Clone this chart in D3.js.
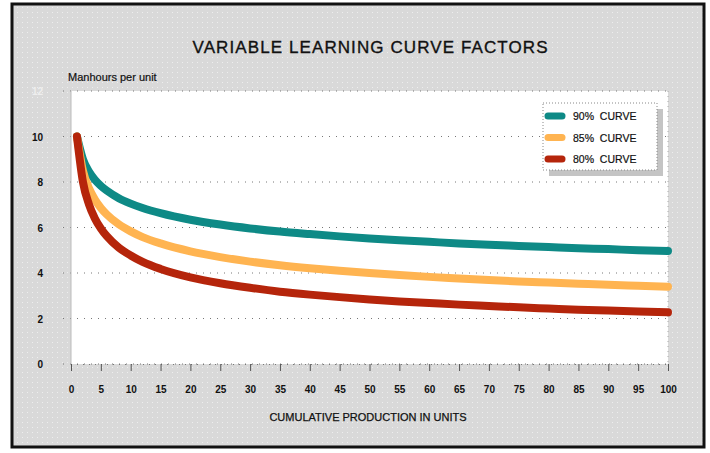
<!DOCTYPE html>
<html>
<head>
	<title>Learning curves</title>
	<script src="https://cdnjs.cloudflare.com/ajax/libs/d3/7.8.5/d3.min.js"></script>
	<style>
		body { margin: 0; background: #fff; }
		text { font-family: "Liberation Sans", Arial, sans-serif; }
	</style>
</head>
<body>
<script>

	// units produced (x) and manhours per unit
	var units = [1, 2, 3, 4, 5, 6, 8, 10, 12, 15, 20, 25, 30, 35, 40, 45, 50,
	             55, 60, 65, 70, 75, 80, 85, 90, 95, 100];
	var curve90 = [10, 9.0, 8.46, 8.1, 7.83, 7.62, 7.29, 7.05, 6.86, 6.63, 6.34, 6.13, 5.96,
	               5.82, 5.71, 5.61, 5.52, 5.44, 5.37, 5.3, 5.24, 5.19, 5.14, 5.09, 5.05, 5.0, 4.97];
	var curve85 = [10, 8.5, 7.73, 7.23, 6.86, 6.57, 6.14, 5.83, 5.58, 5.3, 4.95, 4.7, 4.5,
	               4.34, 4.21, 4.1, 4.0, 3.91, 3.83, 3.76, 3.69, 3.63, 3.58, 3.53, 3.48, 3.44, 3.4];
	var curve80 = [10, 8.0, 7.02, 6.4, 5.96, 5.62, 5.12, 4.77, 4.49, 4.18, 3.81, 3.55, 3.35,
	               3.18, 3.05, 2.94, 2.84, 2.75, 2.68, 2.61, 2.55, 2.49, 2.44, 2.39, 2.35, 2.31, 2.27];
	var seriesNames = ["90% CURVE", "85% CURVE", "80% CURVE"];
	var seriesColors = ["#0e8a86", "#ffb451", "#b5250b"];
	var xTicks = d3.range(0, 101, 5);
	var yTicks = [0, 2, 4, 6, 8, 10, 12];

	var width = 710, height = 453;
	var plot = {left: 71, right: 668, top: 91, bottom: 364};

	var svg = d3.select("body").append("svg")
		.attr("width", width)
		.attr("height", height);

	// dotted grey backdrop
	var pat = svg.append("defs").append("pattern")
		.attr("id", "dots")
		.attr("width", 5).attr("height", 5)
		.attr("patternUnits", "userSpaceOnUse");
	pat.append("rect").attr("width", 5).attr("height", 5).attr("fill", "#d9d9d9");
	pat.append("rect").attr("x", 2).attr("y", 2).attr("width", 1).attr("height", 1).attr("fill", "#eeeeee");

	svg.append("rect")
		.attr("x", 12).attr("y", 4)
		.attr("width", 692).attr("height", 443)
		.attr("fill", "url(#dots)")
		.attr("stroke", "#111")
		.attr("stroke-width", 3);

	var x = d3.scaleLinear().domain([0, 100]).range([plot.left, plot.right]);
	var y = d3.scaleLinear().domain([0, 12]).range([plot.bottom, plot.top]);

	svg.append("rect")
		.attr("x", plot.left).attr("y", plot.top)
		.attr("width", plot.right - plot.left)
		.attr("height", plot.bottom - plot.top)
		.attr("fill", "#fff");

	svg.append("text")
		.attr("x", 370).attr("y", 53)
		.attr("text-anchor", "middle")
		.attr("font-size", 17)
		.attr("textLength", 355)
		.attr("fill", "#111")
		.attr("stroke", "#111")
		.attr("stroke-width", 0.35)
		.text("VARIABLE  LEARNING  CURVE  FACTORS");

	svg.append("text")
		.attr("x", 68).attr("y", 81)
		.attr("font-size", 11)
		.attr("fill", "#111")
		.attr("stroke", "#111")
		.attr("stroke-width", 0.2)
		.text("Manhours per unit");

	// horizontal dotted grid
	svg.append("g").selectAll("line")
		.data(yTicks)
		.enter().append("line")
		.attr("x1", plot.left - 8).attr("x2", plot.right)
		.attr("y1", function(d) { return y(d); })
		.attr("y2", function(d) { return y(d); })
		.attr("stroke", "#777")
		.attr("stroke-width", 1)
		.attr("stroke-dasharray", "1,6");

	svg.append("line")
		.attr("x1", plot.left).attr("x2", plot.left)
		.attr("y1", plot.top).attr("y2", plot.bottom)
		.attr("stroke", "#bbb");

	svg.append("line")
		.attr("x1", plot.right).attr("x2", plot.right)
		.attr("y1", plot.top).attr("y2", plot.bottom)
		.attr("stroke", "#aaa")
		.attr("stroke-dasharray", "1,4");

	// y labels
	svg.append("g").selectAll("text")
		.data(yTicks)
		.enter().append("text")
		.attr("x", 43)
		.attr("y", function(d) { return y(d) + 4; })
		.attr("text-anchor", "end")
		.attr("font-size", 10)
		.attr("font-weight", "bold")
		.attr("fill", function(d) { return d == 12 ? "#eee" : "#111"; })
		.text(function(d) { return d; });

	// x axis
	var xAxis = d3.axisBottom(x).tickValues(xTicks).tickSize(7).tickPadding(15);
	var gx = svg.append("g")
		.attr("transform", "translate(0," + plot.bottom + ")")
		.call(xAxis);
	gx.select(".domain")
		.attr("stroke", "#777")
		.attr("stroke-dasharray", "1,5");
	gx.selectAll(".tick line").attr("stroke", "#555");
	gx.selectAll(".tick text")
		.attr("font-size", 10)
		.attr("font-weight", "bold")
		.attr("fill", "#111")
		.attr("font-family", "Liberation Sans, Arial, sans-serif");

	svg.append("text")
		.attr("x", 368).attr("y", 421)
		.attr("text-anchor", "middle")
		.attr("font-size", 11)
		.attr("fill", "#111")
		.attr("stroke", "#111")
		.attr("stroke-width", 0.25)
		.text("CUMULATIVE PRODUCTION IN UNITS");

	// curves
	var line = d3.line()
		.x(function(d) { return x(d[0]); })
		.y(function(d) { return y(d[1]); })
		.curve(d3.curveMonotoneX);

	var allSeries = [curve90, curve85, curve80];
	allSeries.forEach(function(vals, i) {
		svg.append("path")
			.datum(units.map(function(u, k) { return [u, vals[k]]; }))
			.attr("d", line)
			.attr("fill", "none")
			.attr("stroke", seriesColors[i])
			.attr("stroke-width", 8)
			.attr("stroke-linecap", "round")
			.attr("stroke-linejoin", "round");
	});

	// legend
	var lg = svg.append("g").attr("transform", "translate(543,103)");
	lg.append("rect")
		.attr("x", 6).attr("y", 6)
		.attr("width", 114).attr("height", 67)
		.attr("fill", "#c4c4c4");
	lg.append("rect")
		.attr("width", 114).attr("height", 67)
		.attr("fill", "#fff")
		.attr("stroke", "#888")
		.attr("stroke-dasharray", "1,2");
	seriesNames.forEach(function(name, i) {
		var yy = 13 + i * 21.5;
		lg.append("line")
			.attr("x1", 5).attr("x2", 19)
			.attr("y1", yy).attr("y2", yy)
			.attr("stroke", seriesColors[i])
			.attr("stroke-width", 7)
			.attr("stroke-linecap", "round");
		lg.append("text")
			.attr("x", 30).attr("y", yy + 4)
			.attr("font-size", 10.5)
			.attr("fill", "#111")
			.attr("stroke", "#111")
			.attr("stroke-width", 0.2)
			.attr("xml:space", "preserve")
			.text(name.replace(" ", "  "));
	});

</script>
</body>
</html>
